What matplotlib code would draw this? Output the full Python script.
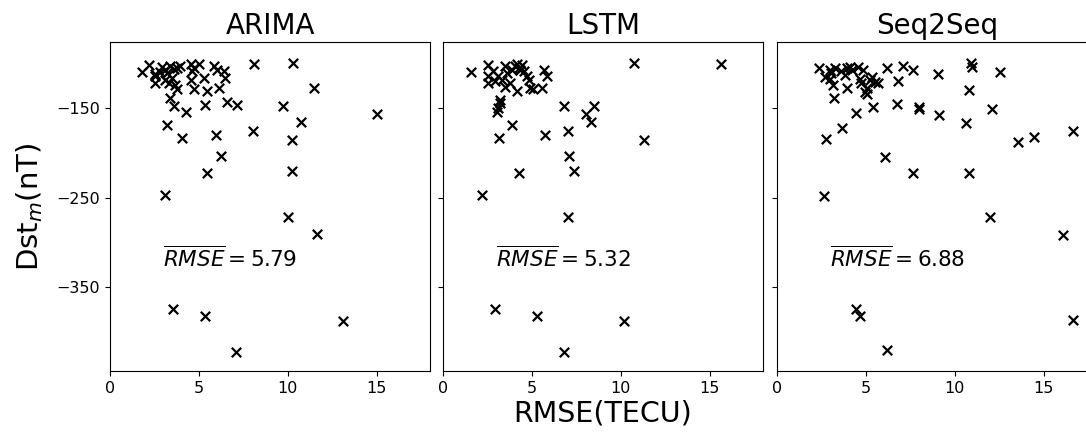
# scatter of storm-time RMSE vs minimum Dst for three forecast models

# libraries
import matplotlib
matplotlib.use('Agg')
import matplotlib.pyplot as plt


# data: RMSE [TECU] and Dst_m [nT]
models = ['ARIMA', 'LSTM', 'Seq2Seq']
mean_rmse = ['5.79', '5.32', '6.88']

arima_rmse = [1.79, 2.17, 2.55, 2.83, 2.92, 3.11, 3.21, 3.40, 3.58, 3.77, 3.96,
              2.55, 2.55, 3.11, 3.30, 3.49, 3.68, 3.77, 3.40, 3.58, 4.25, 4.53,
              4.62, 4.72, 5.00, 4.53, 4.72, 5.28, 5.47, 5.85, 6.04, 6.13, 6.42,
              6.45, 6.57, 7.13, 5.32, 8.11, 10.28, 11.45, 9.72, 10.75, 15.0,
              3.21, 4.06, 5.94, 8.02, 10.23, 6.23, 5.47, 10.23, 3.11, 10.0,
              11.64, 3.55, 5.34, 13.11, 7.08]
arima_dst = [-110, -102, -112, -110, -104, -107, -111, -103, -106, -105, -103,
             -122, -114, -118, -122, -116, -124, -129, -139, -148, -154, -101,
             -109, -105, -101, -118, -129, -116, -131, -103, -107, -128, -109,
             -116, -143, -147, -146, -101, -99, -127, -148, -165, -156,
             -169, -183, -180, -175, -186, -204, -223, -220, -247, -272,
             -291, -375, -383, -388, -423]

lstm_rmse = [1.57, 2.55, 2.83, 2.55, 2.55, 2.92, 3.11, 3.30, 3.49, 3.58, 3.49,
             3.77, 3.87, 4.06, 4.15, 4.25, 4.34, 4.43, 4.53, 4.72, 4.81, 4.91,
             5.09, 4.15, 5.66, 5.85, 5.57, 3.21, 3.21, 3.11, 3.02, 3.87, 3.15,
             5.75, 6.79, 7.04, 8.02, 8.49, 8.30, 10.75, 15.66, 11.32, 7.11,
             4.25, 7.36, 2.21, 7.04, 2.92, 5.28, 10.19, 6.79]
lstm_dst = [-110, -102, -109, -114, -122, -120, -114, -118, -103, -111, -126,
            -122, -107, -103, -101, -105, -107, -102, -109, -114, -118, -128,
            -129, -131, -107, -114, -127, -141, -144, -150, -154, -169, -183,
            -180, -148, -175, -156, -148, -165, -99, -101, -186, -204,
            -223, -220, -247, -272, -375, -383, -388, -423]

seq_rmse = [2.36, 2.68, 2.96, 3.06, 2.96, 3.15, 3.25, 3.62, 3.81, 3.91, 4.09,
            4.19, 4.57, 4.85, 4.66, 4.75, 4.94, 5.04, 5.23, 5.32, 5.51, 5.70,
            5.04, 3.91, 3.19, 4.43, 5.38, 6.21, 6.79, 7.06, 7.64, 6.74, 7.96,
            7.98, 9.04, 9.09, 10.89, 10.98, 10.79, 10.64, 12.53, 12.11, 3.68,
            2.74, 13.53, 14.47, 16.64, 6.08, 7.64, 10.79, 2.62, 11.96, 16.08,
            4.43, 4.66, 16.64, 6.17]
seq_dst = [-105, -115, -107, -111, -117, -124, -105, -109, -113, -105, -104,
           -107, -104, -107, -117, -122, -132, -128, -119, -115, -121, -122,
           -134, -128, -139, -155, -149, -105, -120, -103, -107, -145, -149,
           -151, -112, -158, -100, -104, -130, -167, -110, -151, -172,
           -185, -188, -182, -176, -205, -223, -222, -248, -272, -292,
           -375, -383, -387, -421]

xs = [arima_rmse, lstm_rmse, seq_rmse]
ys = [arima_dst, lstm_dst, seq_dst]

fig = plt.figure(figsize=(10.86, 4.32), dpi=100)

# axes placed by hand; the last one runs past the right edge like the source
lefts = [0.1013, 0.4079, 0.7155]
axes = []
for i in range(3):
    ax = fig.add_axes([lefts[i], 0.1412, 0.2947, 0.7616])
    ax.scatter(xs[i], ys[i], marker='x', color='black', s=46, linewidths=1.6)
    ax.set_xlim(0, 18)
    ax.set_ylim(-444, -76)
    ax.set_xticks([0, 5, 10, 15])
    ax.set_yticks([-150, -250, -350])
    ax.tick_params(labelsize=11.5)
    if i > 0:
        ax.set_yticklabels([])
    ax.set_title(models[i], fontsize=20)
    ax.text(0.167, 0.316, r'$\overline{RMSE}=' + mean_rmse[i] + '$',
            transform=ax.transAxes, fontsize=15.5, ha='left', va='baseline')
    axes.append(ax)

axes[0].set_ylabel(r'Dst$_m$(nT)', fontsize=21, labelpad=8)
axes[1].set_xlabel('RMSE(TECU)', fontsize=20.5, labelpad=3)

# save plot
plt.savefig('out.png', dpi=100)
